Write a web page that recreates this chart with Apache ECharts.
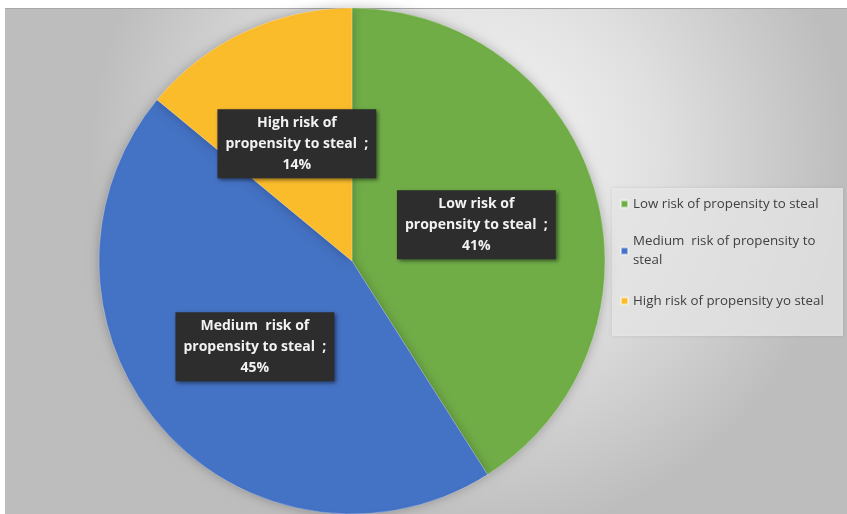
<!DOCTYPE html>
<html>
<head>
<meta charset="utf-8">
<script src="https://cdn.jsdelivr.net/npm/echarts@6/dist/echarts.min.js"></script>
<style>html,body{margin:0;padding:0;background:#fff}#c{width:847px;height:514px}</style>
</head>
<body>
<div id="c"></div>
<script>
var categories = ['Low risk of propensity to steal', 'Medium  risk of propensity to steal', 'High risk of propensity to steal'];
var values = [41, 45, 14];
var sliceLabels = ['Low risk of\npropensity to steal  ;', 'Medium  risk of\npropensity to steal  ;', 'High risk of\npropensity to steal  ;'];
var legendLabels = ['Low risk of propensity to steal', 'Medium  risk of propensity to\nsteal', 'High risk of propensity yo steal'];
var colors = ['#70ad47', '#4472c4', '#fbbc2c'];

var chart = echarts.init(document.getElementById('c'));
var legendTops = [194.5, 222.5, 291.5];
var legends = categories.map(function (n, i) {
  var multi = legendLabels[i].indexOf('\n') >= 0;
  return {
    show: true, orient: 'vertical', left: 620, top: legendTops[i], padding: 0,
    itemWidth: 7, itemHeight: 7, itemGap: 5, icon: 'rect', selectedMode: false,
    data: [n],
    formatter: function () { return legendLabels[i]; },
    textStyle: { fontFamily: 'Open Sans', fontSize: 13.3, color: '#404040', lineHeight: 19, padding: multi ? [19, 0, 0, 0] : 0 }
  };
});

chart.setOption({
  animation: false,
  color: colors,
  graphic: [
    { type: 'rect', z: -10, shape: { x: 5, y: 8, width: 842, height: 506 },
      style: { fill: new echarts.graphic.RadialGradient(0.55, 0.3, 0.75, [
        { offset: 0, color: '#f8f8f8' }, { offset: 0.5, color: '#e0e0e0' }, { offset: 1, color: '#bdbdbd' }]) } },
    { type: 'line', z: -9, shape: { x1: 5, y1: 8.5, x2: 847, y2: 8.5 }, style: { stroke: '#a8a8a8', lineWidth: 1 } },
    { type: 'rect', z: -5, shape: { x: 612, y: 188, width: 231, height: 148 },
      style: { fill: 'rgba(236,236,236,0.75)', shadowBlur: 3, shadowColor: 'rgba(0,0,0,0.15)' } }
  ],
  legend: legends,
  series: [{
    type: 'pie',
    center: [352, 261],
    radius: [0, 253],
    startAngle: 90,
    clockwise: true,
    avoidLabelOverlap: false,
    itemStyle: { borderColor: 'rgba(255,255,255,0.5)', borderWidth: 0.5, shadowBlur: 12, shadowColor: 'rgba(0,0,0,0.25)' },
    label: {
      show: true, position: 'inside',
      formatter: function (p) { return sliceLabels[p.dataIndex] + '\n' + p.value + '%'; },
      fontFamily: 'Open Sans', fontWeight: 'bold', fontSize: 14, color: '#f2f2f2', lineHeight: 21, align: 'center',
      backgroundColor: '#2d2d2d', padding: [3, 8, 3, 8],
      shadowBlur: 4, shadowColor: 'rgba(0,0,0,0.5)', shadowOffsetX: 2, shadowOffsetY: 2
    },
    labelLine: { show: false },
    emphasis: { disabled: true },
    data: categories.map(function (n, i) { return { name: n, value: values[i] }; })
  }]
});
</script>
</body>
</html>
